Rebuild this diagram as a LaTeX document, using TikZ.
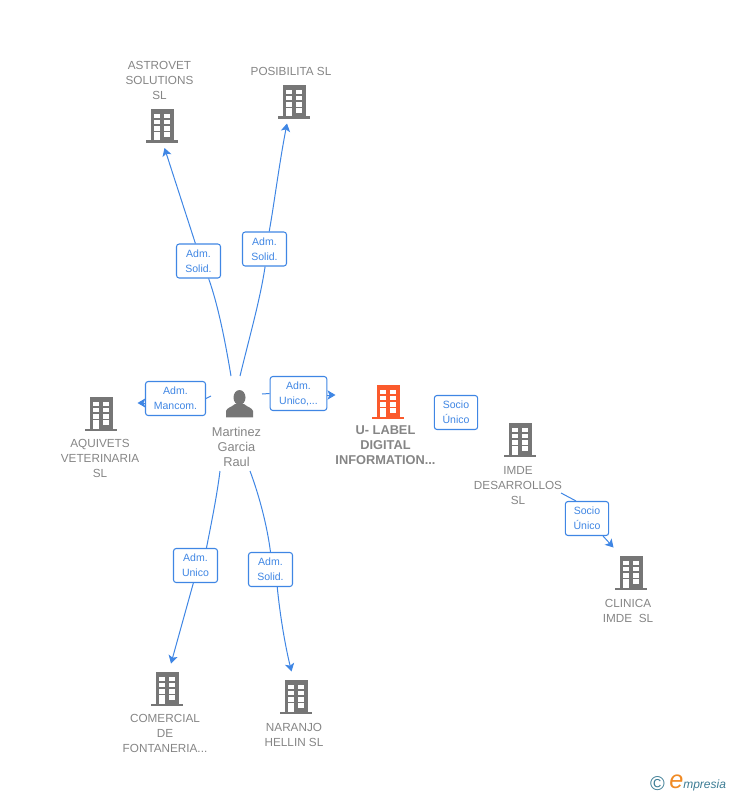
\documentclass[tikz,border=0pt]{standalone}
\usepackage{fontspec}
\setmainfont{Liberation Sans}
\definecolor{linkblue}{HTML}{3F86E4}
\definecolor{bldggray}{HTML}{767676}
\definecolor{txtgray}{HTML}{858585}
\definecolor{bldgred}{HTML}{FB5A2C}
\definecolor{logoteal}{HTML}{3C7C94}
\definecolor{logoorange}{HTML}{F08A24}
\tikzset{
	link/.style={linkblue,line width=0.75pt},
	arrowlink/.style={link,-{Stealth[length=6pt,width=7pt,inset=1.5pt]}},
	rolebox/.style={draw=linkblue,line width=0.8pt,rounded corners=2pt,fill=white,text=linkblue,
		font=\fontsize{7.9}{11.25}\selectfont,align=center,inner sep=0pt,minimum height=25.5pt,
		execute at begin node={\rule{0pt}{7.4pt}}},
	firmlabel/.style={text=txtgray,font=\fontsize{8.8}{11.25}\selectfont,align=center,inner sep=0pt},
	pics/bldg/.style={code={
		\fill[#1] (-11.5,-17) rectangle (11.5,15);
		\fill[#1] (-16,14.5) rectangle (16,16.8);
		\foreach \rowy in {-12.3,-6.3,0.3}{
			\fill[white] (-7.6,\rowy) rectangle (-2.2,\rowy+4.6);
			\fill[white] (2.4,\rowy) rectangle (7.8,\rowy+4.6);
		}
		\fill[white] (-7.6,5.9) rectangle (-2.2,14.5);
		\fill[white] (2.4,5.9) rectangle (7.8,10.8);
	}}
}
\usetikzlibrary{arrows.meta}
\begin{document}
\begin{tikzpicture}[x=0.75pt,y=-0.75pt,>=stealth,line join=round]
	\useasboundingbox (0,0) rectangle (728,795);
	% buildings
	\foreach \xb/\yb in {162/126,294/102,101/414,520/440,631/573,167/689,296/697}
		\pic at (\xb,\yb) {bldg=bldggray};
	\pic at (388,402) {bldg=bldgred};
	% person
	\fill[bldggray] (239.5,397.5) ellipse (6 and 7.5);
	\fill[bldggray] (226,417.3) -- (226,411) .. controls (227,407.5) and (232,407) .. (235,404)
		-- (244,404) .. controls (247,407) and (252,407.5) .. (253,411) -- (253,417.3) -- cycle;
	% labels
	\node[firmlabel] (astrovet) at (159.5,80.5) {ASTROVET\\SOLUTIONS\\SL};
	\node[firmlabel] (posibilita) at (291,71.5) {POSIBILITA SL};
	\node[firmlabel] (aquivets) at (100,458.5) {AQUIVETS\\VETERINARIA\\SL};
	\node[firmlabel,font=\fontsize{9.6}{11.25}\selectfont] (raul) at (236.5,447) {Martinez\\Garcia\\Raul};
	\node[firmlabel,font=\fontsize{9.6}{11.25}\selectfont\bfseries] (ulabel) at (385.5,445) {U- LABEL\\DIGITAL\\INFORMATION...};
	\node[firmlabel] (imde) at (518,485.5) {IMDE\\DESARROLLOS\\SL};
	\node[firmlabel] (clinica) at (628,610.5) {CLINICA\\IMDE~~SL};
	\node[firmlabel] (comercial) at (165,733.5) {COMERCIAL\\DE\\FONTANERIA...};
	\node[firmlabel] (naranjo) at (294,734.5) {NARANJO\\HELLIN SL};
	% role boxes
	\node[rolebox,minimum width=33pt] (roleastrovet) at (198.5,261) {Adm.\\Solid.};
	\node[rolebox,minimum width=33pt] (roleposibilita) at (264.5,249) {Adm.\\Solid.};
	\node[rolebox,minimum width=45pt] (roleaquivets) at (175.5,398.5) {Adm.\\Mancom.};
	\node[rolebox,minimum width=42.5pt] (roleulabel) at (298.5,393.5) {Adm.\\Unico,...};
	\node[rolebox,minimum width=32.5pt] (rolesocio) at (456,412.5) {Socio\\Único};
	\node[rolebox,minimum width=32.5pt] (roleimde) at (587,518.5) {Socio\\Único};
	\node[rolebox,minimum width=33pt] (rolecomercial) at (195.5,565.5) {Adm.\\Unico};
	\node[rolebox,minimum width=33pt] (rolenaranjo) at (270.5,569.5) {Adm.\\Solid.};
	% free ends
	\coordinate (fromastrovet) at (231,376);
	\coordinate (fromposibilita) at (240,376);
	\coordinate (fromaquivets) at (211,396);
	\coordinate (fromulabel) at (262,394);
	\coordinate (fromimde) at (561,493);
	\coordinate (fromcomercial) at (220,471);
	\coordinate (fromnaranjo) at (250,471);
	\coordinate (toastrovet) at (164.5,148);
	\coordinate (toposibilita) at (287,123.5);
	\coordinate (toaquivets) at (137.5,403);
	\coordinate (toulabel) at (335.5,395);
	\coordinate (toclinica) at (613.5,547.5);
	\coordinate (tocomercial) at (171,663.5);
	\coordinate (tonaranjo) at (291.5,671.5);
	% connectors
	\draw[link] (fromastrovet) .. controls (225,340) and (218,305) .. (roleastrovet.-60);
	\draw[arrowlink] (roleastrovet.100) -- (toastrovet);
	\draw[link] (fromposibilita) .. controls (250,335) and (260,300) .. (roleposibilita.-88);
	\draw[arrowlink] (roleposibilita.75) .. controls (274,205) and (279,165) .. (toposibilita);
	\draw[link] (fromaquivets) -- (roleaquivets.east);
	\draw[arrowlink] (roleaquivets.west |- toaquivets) -- (toaquivets);
	\draw[link] (fromulabel) -- (roleulabel.west);
	\draw[arrowlink] (roleulabel.east |- toulabel) -- (toulabel);
	\draw[link] (fromimde) -- (roleimde.north -| 576,0);
	\draw[arrowlink] (roleimde.south -| 603,0) -- (toclinica);
	\draw[link] (fromcomercial) .. controls (217,495) and (212,520) .. (rolecomercial.58);
	\draw[arrowlink] (rolecomercial.-97) -- (tocomercial);
	\draw[link] (fromnaranjo) .. controls (259,495) and (267,525) .. (rolenaranjo.90);
	\draw[arrowlink] (rolenaranjo.-69) .. controls (280,615) and (285,645) .. (tonaranjo);
	% logo
	\node[text=logoteal,font=\fontsize{15}{15}\selectfont,inner sep=0pt] (logoc) at (657.5,784) {©};
	\node[text=logoorange,font=\fontsize{19}{19}\selectfont\itshape,inner sep=0pt] (logoe) at (676.5,782) {e};
	\node[text=logoteal,font=\fontsize{9}{9}\selectfont\itshape,inner sep=0pt,anchor=west] (logotext) at (683,785) {mpresia};
\end{tikzpicture}
\end{document}
